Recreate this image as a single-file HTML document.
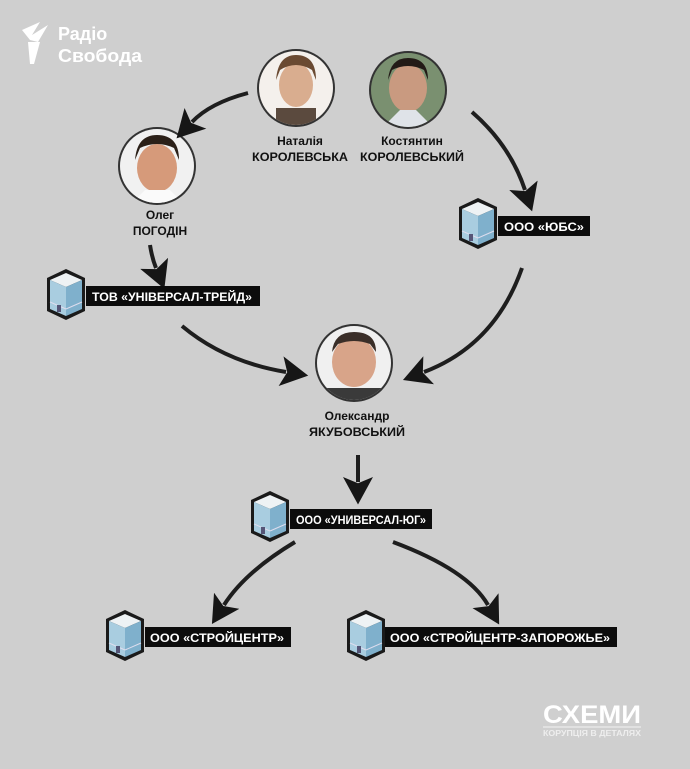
<!DOCTYPE html>
<html><head><meta charset="utf-8"><style>
html,body{margin:0;padding:0;background:#cfcfcf}
svg{display:block}
text{font-family:"Liberation Sans",sans-serif;font-weight:bold}
</style></head><body>
<svg width="690" height="769" viewBox="0 0 690 769" xmlns="http://www.w3.org/2000/svg">
<defs>
<marker id="ah" markerUnits="userSpaceOnUse" markerWidth="30" markerHeight="30" refX="4" refY="12" orient="auto" viewBox="0 0 24 24">
<path d="M0,0 L22,12 L0,24 L5,12 Z" fill="#161616"/>
</marker>
<g id="bld">
<polygon points="0,-27 19,-18 19,15 0,24 -19,15 -19,-18" fill="#1a1a1a"/>
<polygon points="0,-23 16,-16 0,-9 -16,-16" fill="#eef2f4"/>
<polygon points="-16,-16 0,-9 0,20 -16,13" fill="#a9cde0"/>
<polygon points="16,-16 0,-9 0,20 16,13" fill="#7fb0cc"/>
<line x1="-16" y1="6" x2="0" y2="13" stroke="#dde" stroke-width="1"/>
<line x1="16" y1="6" x2="0" y2="13" stroke="#dde" stroke-width="1"/>
<rect x="-9" y="9" width="4" height="7" fill="#557"/>
</g>
<clipPath id="c1"><circle cx="296" cy="88" r="37"/></clipPath>
<clipPath id="c2"><circle cx="408" cy="90" r="37"/></clipPath>
<clipPath id="c3"><circle cx="157" cy="166" r="37"/></clipPath>
<clipPath id="c4"><circle cx="354" cy="363" r="37"/></clipPath>
</defs>
<rect width="690" height="769" fill="#cfcfcf"/>

<g fill="#fff">
<path d="M22,30 L40,22 L32,35 L48,25 L38,42 L30,40 Z"/>
<path d="M28,42 L40,42 L34,64 L30,64 Z"/>
<text x="58" y="40" font-size="18" fill="#fff">Радіо</text>
<text x="58" y="62" font-size="18" fill="#fff" textLength="84" lengthAdjust="spacingAndGlyphs">Свобода</text>
</g>

<circle cx="296" cy="88" r="39" fill="#333"/>
<g clip-path="url(#c1)"><rect x="250" y="45" width="100" height="90" fill="#f4f0ec"/><ellipse cx="296" cy="85" rx="17" ry="22" fill="#d9ad8f"/><path d="M276,80 Q278,55 296,55 Q316,55 316,80 L312,70 Q296,60 280,70Z" fill="#6a4a32"/><rect x="276" y="108" width="40" height="25" fill="#5b4a3e"/></g>
<circle cx="408" cy="90" r="39" fill="#333"/>
<g clip-path="url(#c2)"><rect x="360" y="45" width="100" height="95" fill="#7a9070"/><ellipse cx="408" cy="88" rx="19" ry="24" fill="#c99a80"/><path d="M388,80 Q390,58 408,58 Q428,58 428,80 L424,70 Q408,62 392,70Z" fill="#221a16"/><path d="M380,130 L400,110 L416,110 L436,130Z" fill="#dfe3e8"/></g>
<circle cx="157" cy="166" r="39" fill="#333"/>
<g clip-path="url(#c3)"><rect x="110" y="125" width="100" height="90" fill="#f1f1f1"/><ellipse cx="157" cy="168" rx="20" ry="24" fill="#d69a7a"/><path d="M135,160 Q137,135 157,135 Q179,135 179,160 L174,148 Q157,140 140,148Z" fill="#2b2018"/><path d="M125,210 L145,190 L170,190 L190,210Z" fill="#fafafa"/></g>
<circle cx="354" cy="363" r="39" fill="#333"/>
<g clip-path="url(#c4)"><rect x="310" y="320" width="100" height="90" fill="#f0f0f0"/><ellipse cx="354" cy="362" rx="22" ry="25" fill="#d8a489"/><path d="M332,352 Q334,332 354,332 Q376,332 376,352 L370,344 Q354,338 338,344Z" fill="#3a2e28"/><rect x="320" y="388" width="70" height="25" fill="#3a3a3a"/></g>

<g font-size="12" text-anchor="middle" fill="#111">
<text x="300" y="145">Наталія</text><text x="300" y="161" textLength="96" lengthAdjust="spacingAndGlyphs">КОРОЛЕВСЬКА</text>
<text x="412" y="145">Костянтин</text><text x="412" y="161" textLength="104" lengthAdjust="spacingAndGlyphs">КОРОЛЕВСЬКИЙ</text>
<text x="160" y="219">Олег</text><text x="160" y="235">ПОГОДІН</text>
<text x="357" y="420">Олександр</text><text x="357" y="436" textLength="96" lengthAdjust="spacingAndGlyphs">ЯКУБОВСЬКИЙ</text>
</g>

<g fill="none" stroke="#1e1e1e" stroke-width="4" marker-end="url(#ah)">
<path d="M248,93 Q210,103 192,122"/>
<path d="M150,245 Q152,258 156,268"/>
<path d="M472,112 Q510,145 525,190"/>
<path d="M182,326 Q225,362 286,372"/>
<path d="M522,268 Q495,345 424,372"/>
<path d="M358,455 L358,482"/>
<path d="M295,542 Q245,572 224,605"/>
<path d="M393,542 Q468,570 488,605"/>
</g>

<g font-size="11.5" fill="#fff">
<use href="#bld" x="478" y="225"/>
<rect x="498" y="216" width="92" height="20" fill="#0c0c0c"/><text x="504" y="231" textLength="80" lengthAdjust="spacingAndGlyphs">ООО «ЮБС»</text>
<use href="#bld" x="66" y="296"/>
<rect x="86" y="286" width="174" height="20" fill="#0c0c0c"/><text x="92" y="301" textLength="160" lengthAdjust="spacingAndGlyphs">ТОВ «УНІВЕРСАЛ-ТРЕЙД»</text>
<use href="#bld" x="270" y="518"/>
<rect x="290" y="509" width="142" height="20" fill="#0c0c0c"/><text x="296" y="524" textLength="130" lengthAdjust="spacingAndGlyphs">ООО «УНИВЕРСАЛ-ЮГ»</text>
<use href="#bld" x="125" y="637"/>
<rect x="145" y="627" width="146" height="20" fill="#0c0c0c"/><text x="150" y="642" textLength="134" lengthAdjust="spacingAndGlyphs">ООО «СТРОЙЦЕНТР»</text>
<use href="#bld" x="366" y="637"/>
<rect x="385" y="627" width="232" height="20" fill="#0c0c0c"/><text x="390" y="642" textLength="220" lengthAdjust="spacingAndGlyphs">ООО «СТРОЙЦЕНТР-ЗАПОРОЖЬЕ»</text>
</g>

<text x="543" y="723" font-size="25" fill="#fff" textLength="98" lengthAdjust="spacingAndGlyphs">СХЕМИ</text>
<line x1="543" y1="727" x2="641" y2="727" stroke="#fff" stroke-width="0.8"/>
<text x="543" y="736" font-size="8" font-weight="normal" fill="#eee" textLength="98" lengthAdjust="spacingAndGlyphs">КОРУПЦІЯ В ДЕТАЛЯХ</text>
</svg>
</body></html>
